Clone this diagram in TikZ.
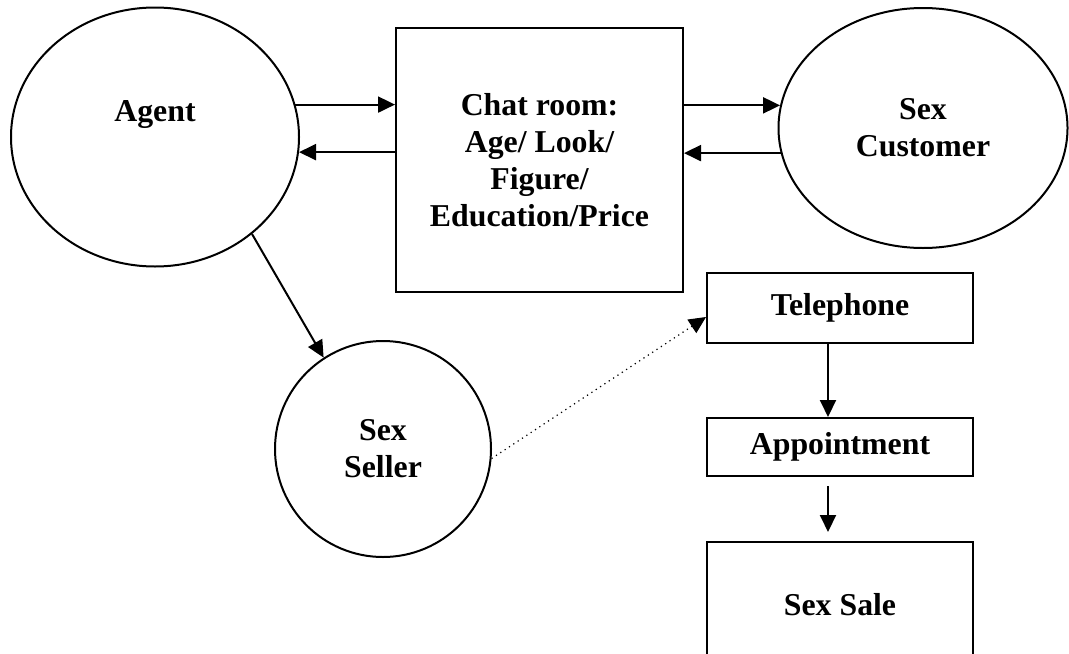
\documentclass[tikz,border=0pt]{standalone}
\usepackage{fontspec}
\setmainfont{Liberation Serif}
\usetikzlibrary{shapes.geometric,arrows.meta}

\begin{document}
\begin{tikzpicture}[x=0.5pt,y=-0.5pt,
    every node/.style={font=\bfseries\fontsize{15.9}{18.4}\selectfont,align=center},
    oval/.style={draw,ellipse,line width=1pt,inner sep=0pt},
    box/.style={draw,rectangle,line width=1pt,inner sep=0pt,minimum width=133pt},
    arr/.style={-{Triangle[length=8.5pt,width=8pt]},line width=1pt}]
        \clip (0,0) rectangle (1069,653);
        % top row
        \node[oval,minimum width=144pt,minimum height=129.5pt,
          label={[yshift=11pt]center:Agent}] (agent) at (155,137) {};
        \node[box,minimum width=143.5pt,minimum height=132pt] (chat) at (539.5,160)
          {Chat room:\\Age/ Look/\\Figure/\\Education/Price};
        \node[oval,minimum width=144.5pt,minimum height=120pt] (cust) at (923,128)
          {Sex\\Customer};
        % lower part
        \node[draw,circle,line width=1pt,inner sep=0pt,minimum size=108pt] (seller)
          at (383,449) {Sex\\Seller};
        \node[box,minimum height=35pt] (tele) at (840,308) {Telephone};
        \node[box,minimum height=29pt] (appt) at (840,447) {Appointment};
        \node[box,minimum height=63pt] (sale) at (840,605) {Sex Sale};
        % connectors
        \draw[arr] (agent.13) -- (agent.13 -| chat.west);
        \draw[arr] (chat.west |- agent.-6) -- (agent.-6);
        \draw[arr] (chat.east |- cust.171) -- (cust.171);
        \draw[arr] (cust.190) -- (cust.190 -| chat.east);
        \draw[arr] (agent.-45) -- (seller.123);
        \draw[arr,line width=0.6pt,dotted] (seller.-5) -- ([yshift=-4.5pt]tele.west);
        \draw[arr] ([xshift=-6pt]tele.south) -- ([xshift=-6pt]appt.north);
        \draw[arr,shorten <=4.5pt,shorten >=4.5pt] ([xshift=-6pt]appt.south)
          -- ([xshift=-6pt]sale.north);
      \end{tikzpicture}
\end{document}
